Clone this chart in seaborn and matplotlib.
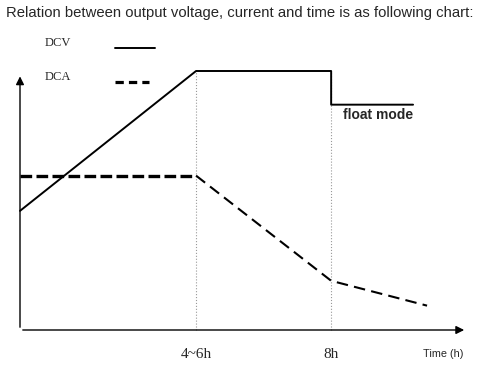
import numpy as np
import pandas as pd
import matplotlib
matplotlib.use("Agg")
import matplotlib.pyplot as plt
import seaborn as sns

sns.set_theme(style="white")

# ---- data (time in arbitrary units, 0 = start of charge) ----
t_knee = 5.03      # "4~6h"
t_float = 8.89     # "8h"
dcv_t = [0.0, t_knee, t_float, t_float, 11.23]
dcv_v = [4.6, 10.0, 10.0, 8.7, 8.7]

dca_const_t = [0.0, t_knee]
dca_const_a = [5.96, 5.96]
dca_fall_t = [t_knee, t_float, 11.63]
dca_fall_a = [5.96, 1.9, 0.94]

tick_pos = [t_knee, t_float]
tick_labels = ["4~6h", "8h"]
x_end, y_end = 12.77, 9.9

# pixel -> data helpers (figure is 479x373 px)
px = lambda x: (x - 20) / 35
py = lambda y: (330 - y) / 25.9

fig = plt.figure(figsize=(4.79, 3.73), dpi=100)
ax = fig.add_axes([0, 0, 1, 1])
ax.set_xlim(px(0), px(479))
ax.set_ylim(py(373), py(0))
ax.axis("off")

# guide lines
ax.vlines(tick_pos, 0, dcv_v[1], colors="#999999", linestyles=":", lw=0.8)

# curves
dcv_style = dict(color="black", lw=1.4)
dca_style = dict(color="black", lw=2.4, linestyle=(0, (3.5, 1.3)))
sns.lineplot(x=dcv_t, y=dcv_v, sort=False, estimator=None, ax=ax, **dcv_style)
sns.lineplot(x=dca_const_t, y=dca_const_a, sort=False, estimator=None, ax=ax, **dca_style)
sns.lineplot(x=dca_fall_t, y=dca_fall_a, sort=False, estimator=None, ax=ax,
             color="black", lw=1.5, linestyle=(0, (5.5, 3)))

# axes arrows
arrow = dict(arrowstyle="-|>", color="black", lw=1.0, mutation_scale=12)
ax.annotate("", xy=(x_end, 0), xytext=(0, 0), arrowprops=arrow)
ax.annotate("", xy=(0, y_end), xytext=(0, 0), arrowprops=arrow)

# key (labels left, samples right)
serif = "Liberation Serif"
ax.text(px(45), py(43), "DCV", va="center", fontsize=9, family=serif)
ax.text(px(45), py(77), "DCA", va="center", fontsize=9, family=serif)
ax.plot([px(115), px(155)], [py(48), py(48)], **dcv_style)
ax.plot([px(115), px(149)], [py(82), py(82)], color="black", lw=2.3,
        linestyle=(0, (2.6, 1.6)))

# labels
for p, lab in zip(tick_pos, tick_labels):
    ax.text(p, py(354), lab, ha="center", va="center", fontsize=11, family=serif)
narrow = ["Liberation Sans Narrow", "Liberation Sans"]
ax.text(px(443.5), py(354), "Time (h)", ha="center", va="center", fontsize=7.8,
        family=narrow)
ax.text(px(378), py(115), "float mode", ha="center", va="center", fontsize=10,
        fontweight="bold", family=narrow)

fig.text(0.5, 1 - 13 / 373, "Relation between output voltage, current and time is as following chart:",
         ha="center", va="center", fontsize=10.75, family="Liberation Sans")

fig.savefig("out.png", dpi=100, facecolor="white")
